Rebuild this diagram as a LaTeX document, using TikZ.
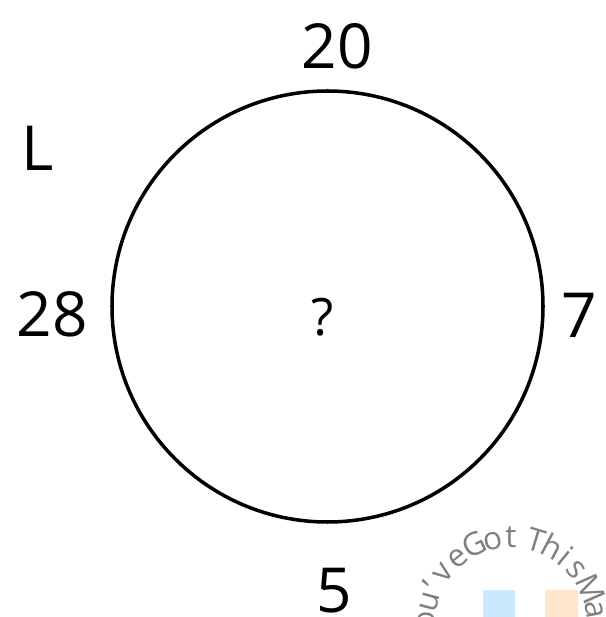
\documentclass[tikz,border=0pt]{standalone}
\usepackage{fontspec}
\setmainfont{Open Sans}
\usetikzlibrary{calc}
\begin{document}
\begin{tikzpicture}[
			x=0.03cm, y=0.03cm,
			num/.style={font=\fontsize{53}{55}\selectfont, inner sep=0pt},
			ring/.style={draw, line width=3pt},
			markletter/.style={font=\fontsize{27}{29}\selectfont, text=black!50, inner sep=0pt, anchor=base}
		]
		\useasboundingbox (0,0) rectangle (605,617);
		\node[ring, circle, minimum size=431*0.03cm] (ring) at (327.5,310.5) {};
		\node[num] (top) at (337,571) {20};
		\node[num] (corner) at (38,469) {L};
		\node[num] (left) at (52,303) {28};
		\node[num, font=\fontsize{44}{46}\selectfont] (centre) at (323,300) {?};
		\node[num] (right) at (579,302) {7};
		\node[num] (bottom) at (334,26) {5};
		% watermark
		\begin{scope}
			\clip (0,0) rectangle (605,617);
			\coordinate (wm) at (511,-7);
			\fill[blue!40!cyan!30, opacity=0.7] (483,-5) rectangle (515,27);
			\fill[orange!25, opacity=0.8] (545,-5) rectangle (578,27);
			\foreach \ch/\a in {Y/190, o/178, u/165, '/154, v/143, e/129, G/115, o/102, t/90,
					T/73, h/62, i/51, s/40, M/24, a/10, t/0, h/-10}
				\node[markletter, rotate=\a-90] at ($(wm)+(\a:76)$) {\ch};
		\end{scope}
	\end{tikzpicture}
\end{document}
